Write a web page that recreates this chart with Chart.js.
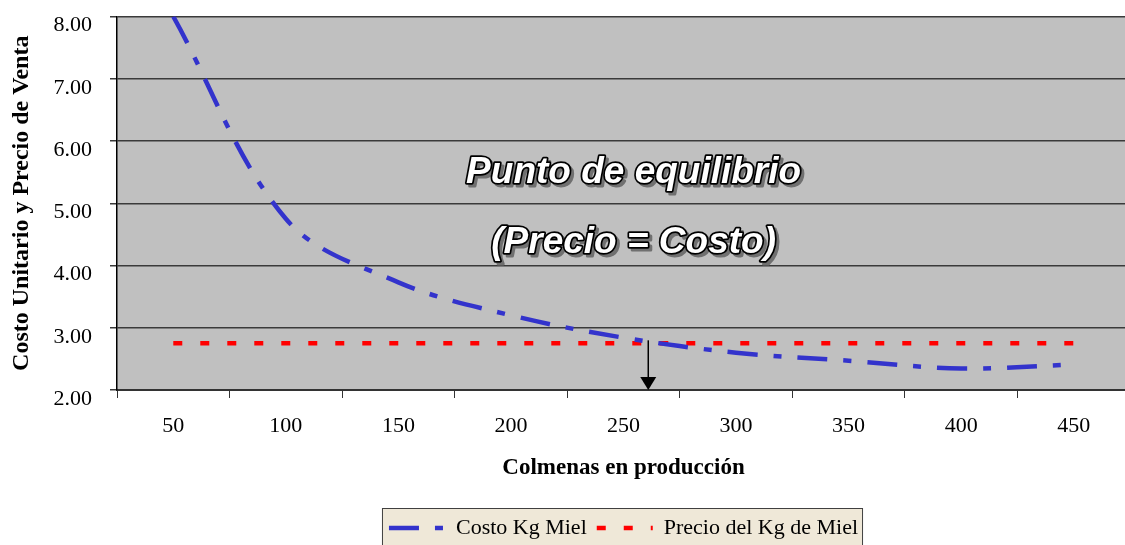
<!DOCTYPE html>
<html>
<head>
<meta charset="utf-8">
<title>Punto de equilibrio</title>
<script src="https://cdn.jsdelivr.net/npm/chart.js@4.4.1/dist/chart.umd.min.js"></script>
<style>
    html, body { margin: 0; padding: 0; background: #ffffff; overflow: hidden; }
    canvas { display: block; }
</style>
</head>
<body>
<canvas id="equilibrioChart" width="1135" height="545"></canvas>
<script>
// datos
var colmenas = ["50", "100", "150", "200", "250", "300", "350", "400", "450"];
var costoKgMiel = [8.00, 4.75, 3.73, 3.20, 2.84, 2.60, 2.47, 2.345, 2.41];
var precioKgMiel = [2.75, 2.75, 2.75, 2.75, 2.75, 2.75, 2.75, 2.75, 2.75];
var puntoEquilibrio = 261;   // colmenas donde precio = costo
var yMin = 2, yMax = 8, yPaso = 1;

var serif = "'Liberation Serif', 'Times New Roman', serif";

// fondo gris del area de trazado y caja de la leyenda
var fondoPlugin = {
    id: 'fondo',
    beforeDraw: function (chart) {
        var ctx = chart.ctx, a = chart.chartArea;
        ctx.save();
        ctx.fillStyle = '#c0c0c0';
        ctx.fillRect(a.left, a.top, a.right - a.left, a.bottom - a.top);

        var lg = chart.legend;
        if (lg && lg.legendHitBoxes && lg.legendHitBoxes.length) {
            var first = lg.legendHitBoxes[0];
            var last = lg.legendHitBoxes[lg.legendHitBoxes.length - 1];
            var x0 = first.left - 7, x1 = last.left + last.width + 4;
            var y0 = lg.top + 1;
            ctx.fillStyle = '#efe8d8';
            ctx.fillRect(x0, y0, x1 - x0, chart.height + 10 - y0);
            ctx.strokeStyle = '#404040';
            ctx.lineWidth = 1;
            ctx.strokeRect(x0 + 0.5, y0 + 0.5, x1 - x0, chart.height + 10 - y0);
        }
        ctx.restore();
    }
};

// flecha del punto de equilibrio y texto tipo WordArt
var equilibrioPlugin = {
    id: 'equilibrio',
    afterDatasetsDraw: function (chart) {
        var ctx = chart.ctx, a = chart.chartArea;
        var xs = chart.scales.x, ys = chart.scales.y;
        var paso = parseFloat(colmenas[1]) - parseFloat(colmenas[0]);
        var idx = (puntoEquilibrio - parseFloat(colmenas[0])) / paso;
        var px = xs.getPixelForValue(idx);
        var pyTop = ys.getPixelForValue(precioKgMiel[0]) - 3;
        var pyBot = ys.getPixelForValue(yMin);

        ctx.save();
        ctx.strokeStyle = '#000';
        ctx.fillStyle = '#000';
        ctx.lineWidth = 1.5;
        ctx.beginPath();
        ctx.moveTo(px, pyTop);
        ctx.lineTo(px, pyBot - 10);
        ctx.stroke();
        ctx.beginPath();
        ctx.moveTo(px - 8, pyBot - 13);
        ctx.lineTo(px + 8, pyBot - 13);
        ctx.lineTo(px, pyBot);
        ctx.closePath();
        ctx.fill();

        var w = a.right - a.left, h = a.bottom - a.top;
        var cx = a.left + 0.51 * w;
        var lineas = [
            { texto: 'Punto de equilibrio', y: a.top + 0.446 * h },
            { texto: '(Precio = Costo)', y: a.top + 0.633 * h }
        ];
        ctx.font = "bold italic 37px 'Liberation Sans', Arial, sans-serif";
        ctx.textAlign = 'center';
        ctx.textBaseline = 'alphabetic';
        ctx.lineJoin = 'round';
        lineas.forEach(function (l) {
            // sombra
            ctx.fillStyle = '#707070';
            ctx.strokeStyle = '#707070';
            ctx.lineWidth = 3;
            ctx.strokeText(l.texto, cx + 3, l.y + 3);
            ctx.fillText(l.texto, cx + 3, l.y + 3);
            // contorno y relleno
            ctx.strokeStyle = '#000';
            ctx.lineWidth = 3.5;
            ctx.strokeText(l.texto, cx, l.y);
            ctx.fillStyle = '#ffffff';
            ctx.fillText(l.texto, cx, l.y);
        });
        ctx.restore();
    }
};

var chart = document.getElementById('equilibrioChart').getContext('2d');

var lineChart = new Chart(chart, {
    type: 'line',
    data: {
        labels: colmenas,
        datasets: [
            {
                label: "Costo Kg Miel",
                data: costoKgMiel,
                borderColor: "#3333cc",
                backgroundColor: "#3333cc",
                borderWidth: 4.5,
                borderDash: [30, 16, 8, 16],
                pointRadius: 0,
                tension: 0.35,
                fill: false
            },
            {
                label: "Precio del Kg de Miel",
                data: precioKgMiel,
                borderColor: "#ff0000",
                backgroundColor: "#ff0000",
                borderWidth: 4.5,
                borderDash: [9, 18],
                pointRadius: 0,
                fill: false
            }
        ]
    },
    options: {
        responsive: false,
        animation: false,
        layout: { padding: { top: 16.5, right: 5, bottom: -4, left: 0 } },
        plugins: {
            legend: {
                display: true,
                position: 'bottom',
                fullSize: false,
                labels: {
                    usePointStyle: true,
                    pointStyle: 'line',
                    pointStyleWidth: 56,
                    padding: 10,
                    color: '#000',
                    font: { family: serif, size: 22 },
                    generateLabels: function (c) {
                        return c.data.datasets.map(function (ds, i) {
                            return {
                                text: ds.label,
                                datasetIndex: i,
                                fillStyle: ds.borderColor,
                                strokeStyle: ds.borderColor,
                                lineWidth: ds.borderWidth,
                                lineDash: ds.borderDash,
                                lineDashOffset: 0,
                                lineCap: 'butt',
                                pointStyle: 'line',
                                fontColor: '#000',
                                hidden: false
                            };
                        });
                    }
                }
            },
            tooltip: { enabled: false },
            title: { display: false }
        },
        scales: {
            x: {
                offset: true,
                grid: {
                    offset: true,
                    drawOnChartArea: false,
                    drawTicks: true,
                    tickLength: 8,
                    color: '#333'
                },
                border: { display: true, color: '#333', width: 2 },
                ticks: {
                    color: '#000',
                    padding: 15,
                    maxRotation: 0,
                    autoSkip: false,
                    font: { family: serif, size: 22 }
                },
                title: {
                    display: true,
                    text: 'Colmenas en producción',
                    color: '#000',
                    font: { family: serif, size: 23, weight: 'bold' },
                    padding: { top: 0, bottom: 25 }
                },
                afterFit: function (scale) { scale.height = 117; }
            },
            y: {
                min: yMin,
                max: yMax,
                grid: {
                    color: '#3a3a3a',
                    lineWidth: 1.5,
                    drawTicks: true,
                    tickLength: 7
                },
                border: { display: true, color: '#000', width: 1.5 },
                ticks: {
                    stepSize: yPaso,
                    color: '#000',
                    padding: 18,
                    labelOffset: 9,
                    font: { family: serif, size: 22 },
                    callback: function (v) { return Number(v).toFixed(2); }
                },
                title: {
                    display: true,
                    text: 'Costo Unitario y Precio de Venta',
                    color: '#000',
                    font: { family: serif, size: 24, weight: 'bold' },
                    padding: { top: 7.6, bottom: 0 }
                },
                afterFit: function (scale) {
                    scale.width = 117;
                    scale.paddingTop = 0;
                    scale.paddingBottom = 0;
                }
            }
        }
    },
    plugins: [fondoPlugin, equilibrioPlugin]
});
</script>
</body>
</html>
